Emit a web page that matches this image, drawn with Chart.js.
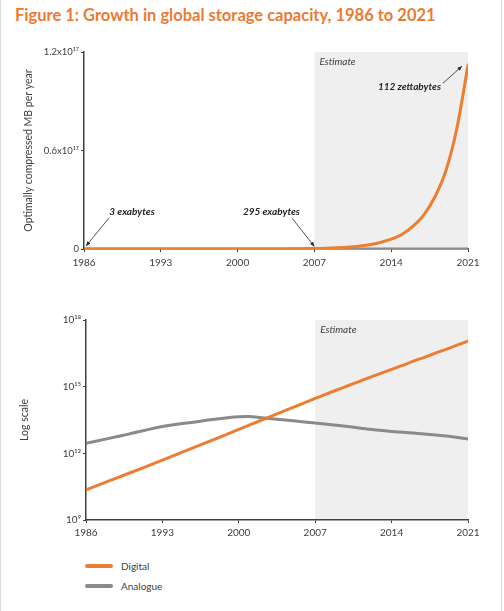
<!DOCTYPE html>
<html>
<head>
<meta charset="utf-8">
<script src="https://cdn.jsdelivr.net/npm/chart.js@4.4.0/dist/chart.umd.min.js"></script>
<style>
  body { margin: 0; background: #fff; font-family: Lato, sans-serif; }
  #page { position: relative; width: 504px; height: 611px; overflow: hidden; background: #fff; }
  .edge { position: absolute; top: 0; bottom: 0; width: 1px; background: #d9d9d9; }
  h1 { position: absolute; left: 15px; top: 5px; margin: 0; font-size: 16.5px; font-weight: bold; color: #ec7a33; white-space: nowrap; }
  canvas { position: absolute; left: 0; }
  #top { top: 40px; }
  #bottom { top: 300px; }
  .key { position: absolute; left: 85px; width: 28px; height: 4px; border-radius: 2px; }
  .keytext { position: absolute; left: 121px; font-size: 10px; color: #404040; }
</style>
</head>
<body>
<div id="page">
  <div class="edge" style="left:0"></div>
  <div class="edge" style="left:501px"></div>
  <h1>Figure 1: Growth in global storage capacity, 1986 to 2021</h1>
  <canvas id="top" width="504" height="240"></canvas>
  <canvas id="bottom" width="504" height="250"></canvas>
  <div class="key" style="top:564px;background:#ed7d31"></div>
  <div class="keytext" style="top:560px">Digital</div>
  <div class="key" style="top:584px;background:#8a8a8a"></div>
  <div class="keytext" style="top:580px">Analogue</div>
</div>
<script>
// years shown on the x axis and the shaded estimate period
const yearTicks = [1986, 1993, 2000, 2007, 2014, 2021];
const estimateStart = 2007;
const estimateEnd = 2021;

// storage capacity, optimally compressed MB per year
const digitalYears = [1986, 1990, 1993, 1997, 2000, 2002, 2004, 2007, 2008, 2009, 2010, 2011, 2012, 2013, 2014, 2015, 2016, 2017, 2018, 2019, 2020, 2021];
const digitalMB = [2.3e10, 1.3e11, 5e11, 3e12, 1.2e13, 3e13, 7.5e13, 2.95e14, 4.6e14, 7.2e14, 1.1e15, 1.7e15, 2.6e15, 4e15, 6e15, 9e15, 1.4e16, 2.1e16, 3.2e16, 4.8e16, 7.4e16, 1.12e17];
const analogueYears = [1986, 1988, 1990, 1993, 1996, 1998, 2000, 2001, 2003, 2005, 2007, 2010, 2012, 2014, 2017, 2019, 2021];
const analogueMB = [2.8e12, 4.6e12, 7.5e12, 1.6e13, 2.6e13, 3.5e13, 4.4e13, 4.5e13, 3.6e13, 2.9e13, 2.3e13, 1.6e13, 1.2e13, 9.5e12, 7.5e12, 6e12, 4.4e12];

// tick labels
const linearTicks = [0, 0.6e17, 1.2e17];
const linearTickLabels = ["0", "0.6x10¹⁷", "1.2x10¹⁷"];
const logTicks = [1e9, 1e12, 1e15, 1e18];
const logTickLabels = ["10⁹", "10¹²", "10¹⁵", "10¹⁸"];

// callouts on the linear chart
const calloutYears = [1986, 2007, 2021];
const calloutValues = [0, 2.95e14, 1.12e17];
const calloutTexts = ["3 exabytes", "295 exabytes", "112 zettabytes"];

// where each callout sits relative to its point (tip, tail, text)
const calloutLayout = [
  { tip: [2, -3], tail: [25, -31], text: [48, -37], align: "center" },
  { tip: [0, -2], tail: [-22, -30], text: [-43, -37], align: "center" },
  { tip: [-6, 1], tail: [-25, 18], text: [-27, 22], align: "right" },
];

const ORANGE = "#ed7d31";
const GREY = "#8a8a8a";
const TEXT = "#404040";

function toPoints(xs, ys) {
  return xs.map((x, i) => ({ x: x, y: ys[i] }));
}

const estimatePlugin = {
  id: "estimate",
  beforeDraw(chart) {
    const { ctx, chartArea } = chart;
    const x = chart.scales.x;
    const x0 = x.getPixelForValue(estimateStart);
    const x1 = x.getPixelForValue(estimateEnd);
    ctx.save();
    ctx.fillStyle = "#efefef";
    ctx.fillRect(x0, chartArea.top, x1 - x0, chartArea.bottom - chartArea.top);
    ctx.fillStyle = TEXT;
    ctx.font = "italic 10px Lato";
    ctx.textBaseline = "middle";
    ctx.fillText("Estimate", x0 + 5, chartArea.top + 10);
    ctx.restore();
  },
};

function arrow(ctx, fx, fy, tx, ty) {
  const a = Math.atan2(ty - fy, tx - fx);
  ctx.beginPath();
  ctx.moveTo(fx, fy);
  ctx.lineTo(tx, ty);
  ctx.stroke();
  ctx.beginPath();
  ctx.moveTo(tx, ty);
  ctx.lineTo(tx - 5 * Math.cos(a - 0.4), ty - 5 * Math.sin(a - 0.4));
  ctx.lineTo(tx - 5 * Math.cos(a + 0.4), ty - 5 * Math.sin(a + 0.4));
  ctx.closePath();
  ctx.fill();
}

const calloutPlugin = {
  id: "callouts",
  afterDatasetsDraw(chart) {
    const { ctx } = chart;
    const { x, y } = chart.scales;
    ctx.save();
    ctx.strokeStyle = "#262626";
    ctx.fillStyle = "#262626";
    ctx.lineWidth = 0.8;
    calloutYears.forEach((year, i) => {
      const px = x.getPixelForValue(year);
      const py = y.getPixelForValue(calloutValues[i]);
      const l = calloutLayout[i];
      arrow(ctx, px + l.tail[0], py + l.tail[1], px + l.tip[0], py + l.tip[1]);
      ctx.font = "italic bold 10px Lato";
      ctx.textAlign = l.align;
      ctx.textBaseline = "middle";
      ctx.fillText(calloutTexts[i], px + l.text[0], py + l.text[1]);
    });
    ctx.restore();
  },
};

function datasets() {
  return [
    { label: "Digital", data: toPoints(digitalYears, digitalMB), borderColor: ORANGE },
    { label: "Analogue", data: toPoints(analogueYears, analogueMB), borderColor: GREY },
  ];
}

function makeOptions(yScale, yTitle, yWidth, titlePad, xHeight, padTop, xPad) {
  return {
    responsive: false,
    animation: false,
    layout: { padding: { top: padTop, right: 36, left: 0, bottom: 0 } },
    plugins: { legend: { display: false }, tooltip: { enabled: false } },
    elements: {
      point: { radius: 0 },
      line: { borderWidth: 3, tension: 0.3, borderCapStyle: "round" },
    },
    scales: {
      x: {
        type: "linear",
        min: 1986,
        max: 2021,
        afterBuildTicks: (s) => {
          s.ticks = yearTicks.map((v) => ({ value: v }));
        },
        ticks: {
          callback: (v) => String(v),
          color: TEXT,
          font: { family: "Lato", size: 10 },
          padding: xPad,
          maxRotation: 0,
        },
        grid: { display: true, drawOnChartArea: false, drawTicks: true, tickLength: 3, color: "#404040" },
        border: { color: "#404040", width: 1.5 },
        afterFit: (s) => {
          s.height = xHeight;
        },
      },
      y: Object.assign(yScale, {
        afterFit: (s) => {
          s.width = yWidth;
        },
        grid: { display: true, drawOnChartArea: false, drawTicks: true, tickLength: 3, color: "#404040" },
        border: { color: "#404040", width: 1.5 },
        title: {
          display: true,
          text: yTitle,
          color: TEXT,
          font: { family: "Lato", size: 10.5 },
          padding: { top: titlePad, bottom: 0 },
        },
      }),
    },
  };
}

new Chart(document.getElementById("top"), {
  type: "line",
  data: { datasets: datasets() },
  options: makeOptions(
    {
      type: "linear",
      min: 0,
      max: 1.2e17,
      afterBuildTicks: (s) => {
        s.ticks = linearTicks.map((v) => ({ value: v }));
      },
      ticks: {
        callback: (v, i) => linearTickLabels[i],
        color: TEXT,
        font: { family: "Lato", size: 9.5 },
        padding: 2,
      },
    },
    "Optimally compressed MB per year",
    84, 22, 31, 12, 5
  ),
  plugins: [estimatePlugin, calloutPlugin],
});

new Chart(document.getElementById("bottom"), {
  type: "line",
  data: { datasets: datasets() },
  options: makeOptions(
    {
      type: "logarithmic",
      min: 1e9,
      max: 1e18,
      afterBuildTicks: (s) => {
        s.ticks = logTicks.map((v) => ({ value: v }));
      },
      ticks: {
        callback: (v, i) => logTickLabels[i],
        color: TEXT,
        font: { family: "Lato", size: 10 },
        padding: 2,
      },
    },
    "Log scale",
    86, 18, 30, 20, 4
  ),
  plugins: [estimatePlugin],
});
</script>
</body>
</html>
